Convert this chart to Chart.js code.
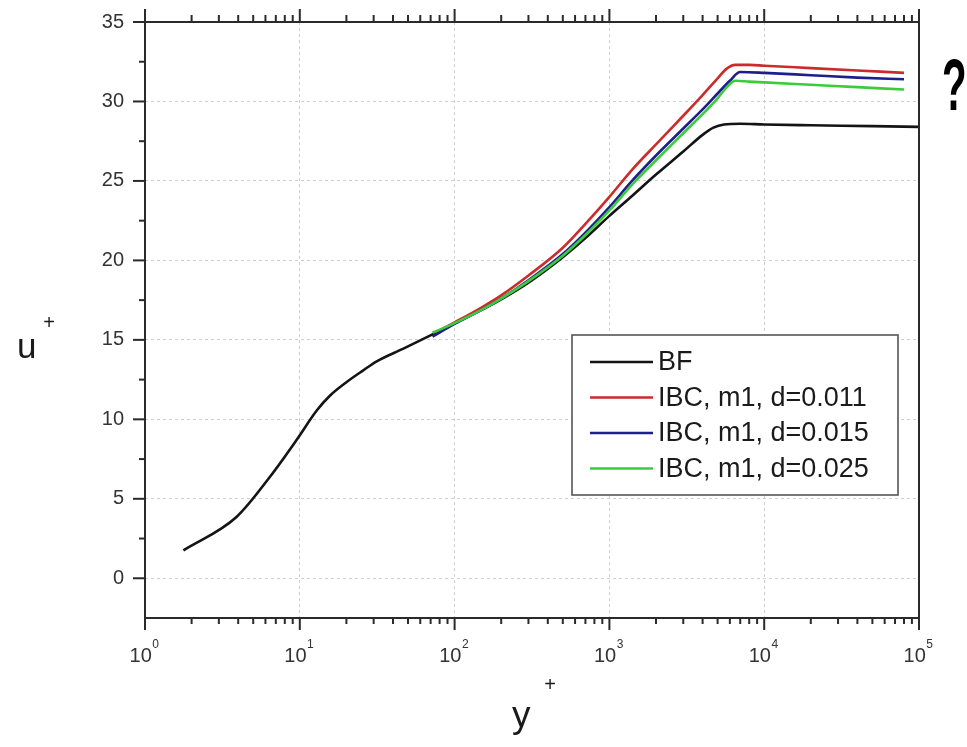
<!DOCTYPE html>
<html>
<head>
<meta charset="utf-8">
<script src="https://cdn.jsdelivr.net/npm/chart.js@4/dist/chart.umd.min.js"></script>
<style>
  html, body { margin: 0; padding: 0; background: #ffffff; }
  #wrap { position: relative; width: 967px; height: 747px; }
  canvas { display: block; }
</style>
</head>
<body>
<div id="wrap"><canvas id="c" width="967" height="747"></canvas></div>
<script>
// ---------------- data ----------------
const seriesLabels = ['BF', 'IBC, m1, d=0.011', 'IBC, m1, d=0.015', 'IBC, m1, d=0.025'];

const bfX = [1.77, 3.9, 6.4, 9.5, 12.9, 15.7, 20.1, 25.7, 31.4, 46.7, 72, 100, 150, 200, 300, 500, 700, 1000, 1400, 2000, 3000, 4000, 4700, 5500, 7000, 10000, 20000, 50000, 100000];
const bfU = [1.76, 3.86, 6.37, 8.68, 10.57, 11.5, 12.35, 13.08, 13.65, 14.45, 15.35, 16.05, 16.9, 17.55, 18.6, 20.2, 21.4, 22.8, 24.05, 25.4, 26.85, 27.9, 28.35, 28.55, 28.6, 28.55, 28.5, 28.45, 28.4];

const d011X = [75, 100, 150, 200, 300, 500, 700, 1000, 1400, 2000, 3000, 4000, 5000, 5700, 6500, 8000, 10000, 20000, 40000, 80000];
const d011U = [15.45, 16.1, 17.05, 17.8, 19.05, 20.8, 22.3, 24.0, 25.7, 27.3, 29.1, 30.4, 31.45, 32.05, 32.3, 32.3, 32.25, 32.1, 31.95, 31.8];

const d015X = [72, 100, 150, 200, 300, 500, 700, 1000, 1400, 2000, 3000, 4000, 5000, 6000, 7000, 10000, 20000, 40000, 80000];
const d015U = [15.2, 16.0, 16.9, 17.6, 18.75, 20.4, 21.75, 23.35, 25.0, 26.6, 28.3, 29.5, 30.5, 31.3, 31.85, 31.8, 31.65, 31.5, 31.4];

const d025X = [72, 100, 150, 200, 300, 500, 700, 1000, 1460, 2000, 3000, 4000, 5000, 5800, 6500, 8000, 10000, 20000, 40000, 80000];
const d025U = [15.45, 16.05, 16.9, 17.6, 18.7, 20.3, 21.6, 23.15, 24.95, 26.3, 28.0, 29.2, 30.2, 30.95, 31.3, 31.25, 31.2, 31.05, 30.9, 30.75];

const xDecadeTicks = [1, 10, 100, 1000, 10000, 100000];
const xTickExponents = ['0', '1', '2', '3', '4', '5'];
const yTickValues = [0, 5, 10, 15, 20, 25, 30, 35];
const yMinorValues = [2.5, 7.5, 12.5, 17.5, 22.5, 27.5, 32.5];

// ---------------- helpers ----------------
const FONT = '"Liberation Sans", Arial, Helvetica, sans-serif';
const toPts = (xs, ys) => xs.map((v, i) => ({ x: v, y: ys[i] }));

const colors = ['#141414', '#cc2b2b', '#1e1e8e', '#3bcc3b'];

function mkDs(i, xs, ys, order) {
  return {
    label: seriesLabels[i],
    data: toPts(xs, ys),
    borderColor: colors[i],
    backgroundColor: colors[i],
    borderWidth: 2.6,
    pointRadius: 0,
    showLine: true,
    fill: false,
    cubicInterpolationMode: 'monotone',
    order: order
  };
}

const decoPlugin = {
  id: 'deco',
  afterDatasetsDraw(chart) {
    const { ctx, chartArea: a, scales: { x, y } } = chart;
    ctx.save();
    const line = (x1, y1, x2, y2) => { ctx.beginPath(); ctx.moveTo(x1, y1); ctx.lineTo(x2, y2); ctx.stroke(); };

    // frame
    ctx.strokeStyle = '#2a2a2a';
    ctx.lineWidth = 2;
    ctx.strokeRect(a.left, a.top, a.right - a.left, a.bottom - a.top);

    // x ticks (bottom and top, outward)
    for (let e = 0; e <= 5; e++) {
      for (let m = 1; m <= 9; m++) {
        const v = m * Math.pow(10, e);
        if (v > x.max + 1e-9) break;
        const px = x.getPixelForValue(v);
        const major = (m === 1);
        line(px, a.bottom, px, a.bottom + (major ? 12 : 6));
        line(px, a.top, px, a.top - (major ? 13 : 7));
      }
    }
    // y ticks (left, outward)
    yTickValues.forEach(v => { const py = y.getPixelForValue(v); line(a.left, py, a.left - 12, py); });
    yMinorValues.forEach(v => { const py = y.getPixelForValue(v); line(a.left, py, a.left - 6, py); });

    // x tick labels 10^n
    ctx.fillStyle = '#333333';
    ctx.textBaseline = 'alphabetic';
    xDecadeTicks.forEach((v, i) => {
      const px = x.getPixelForValue(v);
      ctx.font = '20px ' + FONT;
      const wB = ctx.measureText('10').width;
      ctx.font = '12px ' + FONT;
      const wE = ctx.measureText(xTickExponents[i]).width;
      const start = px - (wB + wE) / 2 - 1;
      ctx.font = '20px ' + FONT;
      ctx.textAlign = 'left';
      ctx.fillText('10', start, 662);
      ctx.font = '12px ' + FONT;
      ctx.fillText(xTickExponents[i], start + wB + 0.5, 648);
    });

    // axis titles
    ctx.fillStyle = '#1a1a1a';
    ctx.textAlign = 'left';
    ctx.font = '35px ' + FONT;
    ctx.fillText('u', 17, 358);
    ctx.font = '20px ' + FONT;
    ctx.textAlign = 'center';
    ctx.textBaseline = 'middle';
    ctx.fillText('+', 49, 323);

    ctx.textAlign = 'left';
    ctx.textBaseline = 'alphabetic';
    ctx.font = '37px ' + FONT;
    ctx.fillText('y', 512, 727);
    ctx.font = '20px ' + FONT;
    ctx.textAlign = 'center';
    ctx.textBaseline = 'middle';
    ctx.fillText('+', 550, 685);

    // legend box
    const lx = 572, ly = 335, lw = 326, lh = 160;
    ctx.fillStyle = '#ffffff';
    ctx.fillRect(lx, ly, lw, lh);
    ctx.strokeStyle = '#555555';
    ctx.lineWidth = 1.6;
    ctx.strokeRect(lx, ly, lw, lh);
    chart.data.datasets.forEach((ds, i) => {
      const cy = 362 + i * 35.5;
      ctx.strokeStyle = ds.borderColor;
      ctx.lineWidth = 2.6;
      line(590, cy, 653, cy);
      ctx.fillStyle = '#1a1a1a';
      ctx.font = '27px ' + FONT;
      ctx.textAlign = 'left';
      ctx.textBaseline = 'middle';
      ctx.fillText(ds.label, 658, cy + 1);
    });

    // question mark
    ctx.save();
    ctx.fillStyle = '#000000';
    ctx.font = 'bold 72px ' + FONT;
    ctx.textAlign = 'left';
    ctx.textBaseline = 'alphabetic';
    ctx.scale(0.56, 1);
    ctx.fillText('?', 942 / 0.56, 110);
    ctx.restore();

    ctx.restore();
  }
};

new Chart(document.getElementById('c'), {
  type: 'scatter',
  data: {
    datasets: [
      mkDs(0, bfX, bfU, 4),
      mkDs(1, d011X, d011U, 3),
      mkDs(2, d015X, d015U, 2),
      mkDs(3, d025X, d025U, 1)
    ]
  },
  options: {
    responsive: false,
    devicePixelRatio: 1,
    animation: false,
    layout: { padding: { left: 0, top: 22, right: 48, bottom: 0 } },
    plugins: { legend: { display: false }, tooltip: { enabled: false } },
    scales: {
      x: {
        type: 'logarithmic',
        position: 'bottom',
        min: 1,
        max: 100000,
        afterBuildTicks: (s) => { s.ticks = xDecadeTicks.map(v => ({ value: v })); },
        afterFit: (s) => { s.height = 129; s.paddingLeft = 0; s.paddingRight = 0; },
        ticks: { display: false },
        grid: { display: true, drawTicks: false, color: '#cfcfcf', lineWidth: 1 },
        border: { display: false, dash: [3, 3] }
      },
      y: {
        type: 'linear',
        position: 'left',
        min: -2.5,
        max: 35,
        afterBuildTicks: (s) => { s.ticks = yTickValues.map(v => ({ value: v })); },
        afterFit: (s) => { s.width = 145; s.paddingTop = 0; s.paddingBottom = 0; },
        ticks: { display: true, padding: 21, color: '#333333', font: { family: FONT, size: 20 } },
        grid: { display: true, drawTicks: false, color: '#cfcfcf', lineWidth: 1 },
        border: { display: false, dash: [3, 3] }
      }
    }
  },
  plugins: [decoPlugin]
});
</script>
</body>
</html>
